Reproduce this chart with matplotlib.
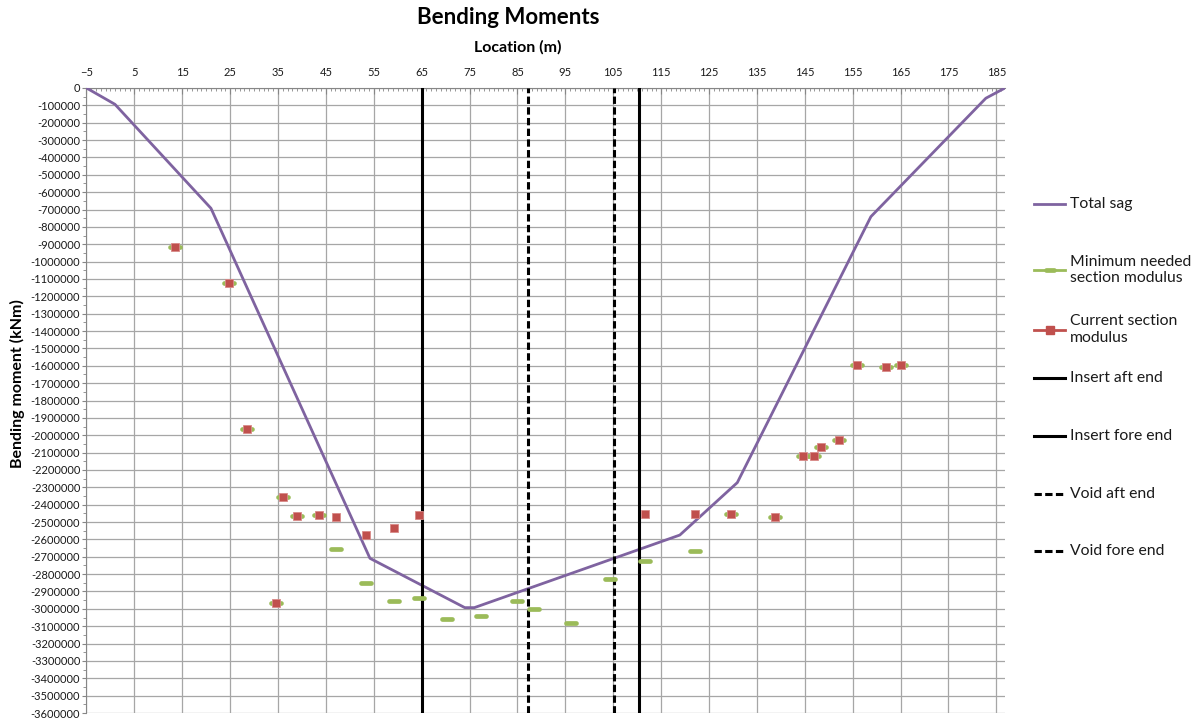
import matplotlib.pyplot as plt
from matplotlib.lines import Line2D
from matplotlib.markers import MarkerStyle
from matplotlib.ticker import MultipleLocator, FuncFormatter

plt.rcParams['font.family'] = ['Lato', 'DejaVu Sans']

nan = float("nan")

# total sag bending moment (kNm) along the hull
sag_x = [-5, 0.95, 21.0, 54.2, 74.0, 76.0, 118.9, 130.9, 158.8, 182.8, 186.8]
sag_y = [0, -94000, -693000, -2709000, -2993000, -2993000, -2575000,
         -2273000, -741000, -59000, 0]

# section modulus checks at frame positions
section_x = [13.5, 24.8, 28.6, 34.5, 36.0, 39.0, 43.5, 47.2, 53.3, 59.3, 64.4,
             70.2, 77.3, 84.8, 88.5, 96.1, 104.3,
             111.7, 122.1, 129.5, 138.7, 144.6, 146.9, 148.4, 152.1,
             155.8, 161.9, 165.0]
needed = [-914000, -1125000, -1964000, -2968000, -2354000, -2467000, -2458000,
          -2654000, -2850000, -2957000, -2938000,
          -3059000, -3040000, -2953000, -3003000, -3082000, -2828000,
          -2727000, -2669000, -2456000, -2471000, -2118000, -2118000,
          -2070000, -2030000, -1597000, -1607000, -1597000]
current = [-914000, -1125000, -1964000, -2968000, -2354000, -2467000, -2458000,
           -2469000, -2575000, -2533000, -2460000,
           nan, nan, nan, nan, nan, nan,
           -2456000, -2456000, -2456000, -2471000, -2118000, -2118000,
           -2070000, -2030000, -1597000, -1607000, -1597000]

insert_aft = 65.0
insert_fore = 110.3
void_aft = 87.3
void_fore = 105.2

x_lim = (-5, 186.8)
y_lim = (-3600000, 0)

legend_labels = ["Total sag", "Minimum needed\nsection modulus",
                 "Current section\nmodulus", "Insert aft end",
                 "Insert fore end", "Void aft end", "Void fore end"]

PURPLE = "#7F63A0"
GREEN = "#9BBB59"
RED = "#C0504D"
GRID = "#a6a6a6"
dash = (0, (2.4, 1.1))
green_marker = MarkerStyle("_", capstyle="round")

fig = plt.figure(figsize=(11.99, 7.2), dpi=100)
ax = fig.add_axes([0.0721, 0.0097, 0.7661, 0.8681])

ax.plot(sag_x, sag_y, color=PURPLE, lw=2.0, zorder=3)
for xv, ls in [(insert_aft, "-"), (insert_fore, "-"), (void_aft, dash), (void_fore, dash)]:
    ax.plot([xv, xv], list(y_lim), color="black", lw=2.2, ls=ls, zorder=3)
ax.plot(section_x, needed, ls="none", marker=green_marker, ms=7.5, mew=3.4,
        color=GREEN, zorder=4)
ax.plot(section_x, current, ls="none", marker="s", ms=5.3, mew=0.6,
        mfc=RED, mec="#d98a88", zorder=5)

ax.set_xlim(*x_lim)
ax.set_ylim(*y_lim)
ax.xaxis.tick_top()
ax.set_xticks(range(-5, 186, 10))
ax.xaxis.set_minor_locator(MultipleLocator(1))
ax.set_yticks(range(-3600000, 1, 100000))
ax.yaxis.set_minor_locator(MultipleLocator(50000))
ax.yaxis.set_major_formatter(FuncFormatter(lambda v, p: f"{v:.0f}"))
ax.tick_params(axis="x", which="major", direction="in", length=4, color="#868686",
               labelsize=8, pad=7, labelcolor="#1a1a1a")
ax.tick_params(axis="x", which="minor", direction="in", length=2.5, color="#868686")
ax.tick_params(axis="y", which="major", direction="out", length=3, color="#868686",
               labelsize=8, pad=1.5, labelcolor="#1a1a1a")
ax.tick_params(axis="y", which="minor", direction="out", length=2, color="#868686")
ax.grid(which="major", color=GRID, lw=0.9)
ax.set_axisbelow(True)
for side in ["right", "bottom"]:
    ax.spines[side].set_visible(False)
for side in ["left", "top"]:
    ax.spines[side].set_color("#868686")

fig.text(508 / 1199, 1 - 18 / 720, "Bending Moments", ha="center", va="center",
         fontsize=16, fontweight="bold")
fig.text(518 / 1199, 1 - 47 / 720, "Location (m)", ha="center", va="center",
         fontsize=11.5, fontweight="bold")
fig.text(17 / 1199, 1 - 384 / 720, "Bending moment (kNm)", ha="center", va="center",
         rotation=90, fontsize=11.5, fontweight="bold")

# legend drawn by hand so the entries keep the reference spacing
leg_y = [204, 270, 329.5, 378, 436, 494, 551]
leg_style = [
    dict(color=PURPLE, lw=2.0),
    dict(color=GREEN, lw=2.0, marker=green_marker, ms=6, mew=3.4, markevery=[1]),
    dict(color=RED, lw=2.0, marker="s", ms=5.3, mfc=RED, mec=RED, markevery=[1]),
    dict(color="black", lw=2.2),
    dict(color="black", lw=2.2),
    dict(color="black", lw=2.2, ls=dash),
    dict(color="black", lw=2.2, ls=dash),
]
for y, label, style in zip(leg_y, legend_labels, leg_style):
    yf = 1 - y / 720
    fig.add_artist(Line2D([1034 / 1199, 1049.5 / 1199, 1065 / 1199], [yf, yf, yf],
                          transform=fig.transFigure, **style))
    fig.text(1070 / 1199, yf, label, ha="left", va="center", fontsize=11.3,
             color="#1a1a1a", linespacing=1.2)

fig.savefig("out.png", dpi=100)
